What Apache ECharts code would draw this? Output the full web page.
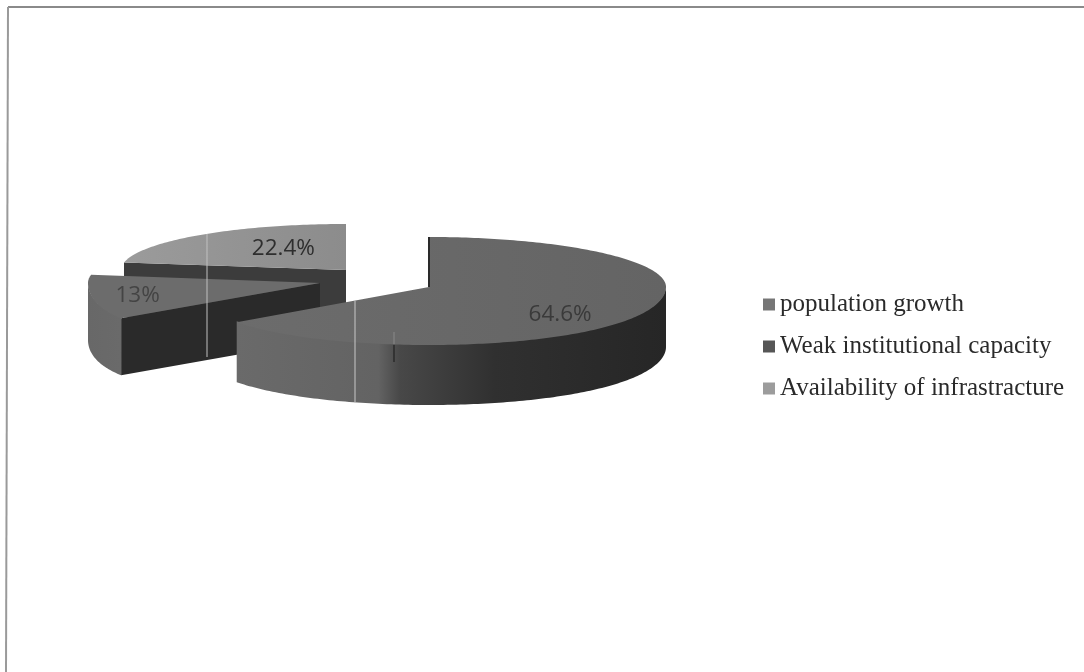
<!DOCTYPE html>
<html>
<head>
<meta charset="utf-8">
<style>html,body{margin:0;padding:0;background:#fff}#chart{width:1084px;height:672px}</style>
<script src="https://cdn.jsdelivr.net/npm/echarts@6/dist/echarts.min.js"></script>
</head>
<body>
<div id="chart"></div>
<script>
// Shares of the reported causes, in percent
const categories = ['population growth', 'Weak institutional capacity', 'Availability of infrastracture'];
const shares = [64.6, 13, 22.4];
const shareLabels = ['64.6%', '13%', '22.4%'];
const legendColors = ['#767676', '#565656', '#9c9c9c'];

// Exploded tilted-pie placement of each slice
const placement = [
  { cx: 429, cy: 287, rx: 237, rxFront: 251, ryBack: 50, ryFront: 58, depth: 60, labelFrac: 0.61, labelDy: 12, z: 3, top: ['#6c6c6c', '#646464'], cut: '#222', side: [[0, '#6a6a6a'], [0.33, '#636363'], [0.38, '#484848'], [0.6, '#303030'], [1, '#262626']], textColor: '#3a3a3a' },
  { cx: 320, cy: 283, rx: 232, rxFront: 282, ryBack: 50, ryFront: 58, depth: 57, labelFrac: 0.8, labelDy: 1, z: 2, top: ['#6c6c6c', '#6c6c6c'], cut: '#2a2a2a', side: [[0, '#686868'], [1, '#6a6a6a']], textColor: '#444' },
  { cx: 346, cy: 270, rx: 225, rxFront: 225, ryBack: 46, ryFront: 50, depth: 55, labelFrac: 0.43, labelDy: -6, z: 1, top: ['#9b9b9b', '#8c8c8c'], cut: '#3c3c3c', side: [[0, '#555'], [1, '#555']], textColor: '#2e2e2e' }
];

const total = shares.reduce((a, b) => a + b, 0);
const startAngles = shares.map((_, i) => shares.slice(0, i).reduce((a, b) => a + b, 0) / total * 360);

function rimPoint(p, deg, dy) {
  const t = deg * Math.PI / 180;
  const c = Math.cos(t);
  const s = Math.sin(t);
  // Nearer parts of the rim spread slightly wider
  const rx = c < 0 ? p.rx + (p.rxFront - p.rx) * c * c : p.rx;
  const ry = c > 0 ? p.ryBack : p.ryFront;
  return [p.cx + s * rx, p.cy - c * ry + (dy || 0)];
}

function arc(p, from, to, dy) {
  const pts = [];
  const steps = Math.max(2, Math.ceil(Math.abs(to - from)));
  for (let k = 0; k <= steps; k++) pts.push(rimPoint(p, from + (to - from) * k / steps, dy));
  return pts;
}

function renderSlice(index) {
  return function (params, api) {
    const p = placement[index];
    const start = startAngles[index];
    const end = start + api.value(0) / total * 360;
    const children = [];

    // Cut wall facing the viewer
    if (start > 180 && start < 360) {
      const edge = rimPoint(p, start);
      children.push({
        type: 'polygon',
        shape: { points: [[p.cx, p.cy], edge, [edge[0], edge[1] + p.depth], [p.cx, p.cy + p.depth]] },
        style: { fill: p.cut }
      });
    }

    // Outer wall, only the front half of the rim shows
    const a = Math.max(start, 90);
    const b = Math.min(end, 270);
    if (a < b) {
      const sideFill = new echarts.graphic.LinearGradient(0, 0, 1, 0, p.side.map(s => ({ offset: s[0], color: s[1] })));
      children.push({
        type: 'polygon',
        shape: { points: arc(p, a, b, -1).concat(arc(p, b, a, p.depth)) },
        style: { fill: sideFill }
      });
    }

    // Top face
    children.push({
      type: 'polygon',
      shape: { points: [[p.cx, p.cy]].concat(arc(p, start, end, 0)) },
      style: {
        fill: new echarts.graphic.LinearGradient(0, 0, 1, 0, [
          { offset: 0, color: p.top[0] }, { offset: 1, color: p.top[1] }
        ])
      }
    });

    // Dark seam along the first radius of a slice
    if (start === 0) {
      children.push({
        type: 'polyline',
        shape: { points: [[p.cx, p.cy], rimPoint(p, 0)] },
        style: { stroke: '#2a2a2a', lineWidth: 2, fill: 'none' }
      });
    }

    // Share label
    const mid = (start + end) / 2;
    const rim = rimPoint(p, mid);
    children.push({
      type: 'text',
      style: {
        x: p.cx + (rim[0] - p.cx) * p.labelFrac,
        y: p.cy + (rim[1] - p.cy) * p.labelFrac + p.labelDy,
        text: shareLabels[index],
        align: 'center',
        verticalAlign: 'middle',
        fill: p.textColor,
        font: '22.5px "Open Sans", sans-serif'
      }
    });

    return { type: 'group', children };
  };
}

const chart = echarts.init(document.getElementById('chart'));
chart.setOption({
  backgroundColor: '#fff',
  animation: false,
  legend: {
    data: categories,
    orient: 'vertical',
    left: 758,
    top: 287,
    itemWidth: 12,
    itemHeight: 12,
    itemGap: 17,
    icon: 'rect',
    selectedMode: false,
    textStyle: { fontFamily: '"Liberation Serif", serif', fontSize: 25, color: '#2a2a2a' }
  },
  series: categories.map((name, i) => ({
    type: 'custom',
    name,
    coordinateSystem: 'none',
    z: placement[i].z,
    silent: true,
    itemStyle: { color: legendColors[i] },
    data: [[shares[i]]],
    renderItem: renderSlice(i)
  })),
  graphic: [
    // Page frame
    { type: 'line', z: 10, shape: { x1: 8, y1: 7, x2: 1084, y2: 7 }, style: { stroke: '#8a8a8a', lineWidth: 2 } },
    { type: 'line', z: 10, shape: { x1: 8, y1: 7, x2: 6, y2: 672 }, style: { stroke: '#9a9a9a', lineWidth: 2 } },
    // Pale creases across the slices
    { type: 'line', z: 10, shape: { x1: 207, y1: 234, x2: 207, y2: 357 }, style: { stroke: '#c0c0c0', lineWidth: 1 } },
    { type: 'line', z: 10, shape: { x1: 355, y1: 301, x2: 355, y2: 402 }, style: { stroke: '#c8c8c8', lineWidth: 1 } },
    { type: 'line', z: 10, shape: { x1: 394, y1: 332, x2: 394, y2: 344 }, style: { stroke: '#8a8a8a', lineWidth: 1 } },
    { type: 'line', z: 10, shape: { x1: 394, y1: 345, x2: 394, y2: 362 }, style: { stroke: '#333', lineWidth: 2 } }
  ]
});
</script>
</body>
</html>
